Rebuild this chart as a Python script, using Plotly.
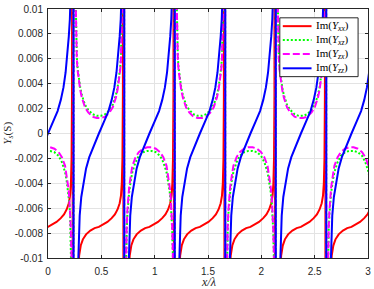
import plotly.graph_objects as go

# ---- data (periodic branches) ----
# branch centres (x/lambda) between consecutive poles
centers = [0.0, 0.477, 0.951, 1.424, 1.898, 2.371, 2.845]

# Im(Yxx): offsets from branch centre and values (tan-like, offset -0.0075)
xx_d = [-0.244, -0.21, -0.195, -0.185, -0.17, -0.15, -0.12, -0.08, -0.04, 0.0,
        0.04, 0.08, 0.12, 0.15, 0.175, 0.195, 0.207, 0.215, 0.221, 0.225, 0.230]
xx_y = [-0.05, -0.0135, -0.0108, -0.0098, -0.0090, -0.0085, -0.0081, -0.0078, -0.0076, -0.0075,
        -0.0073, -0.0071, -0.0068, -0.0065, -0.0061, -0.0056, -0.0050, -0.0040, -0.0020, 0.003, 0.05]

# Im(Yzz)
zz_d = [-0.236, -0.205, -0.197, -0.19, -0.18, -0.165, -0.145, -0.12, -0.09, -0.05, 0.0,
        0.05, 0.09, 0.12, 0.145, 0.165, 0.18, 0.195, 0.205, 0.213, 0.222, 0.238]
zz_y = [-0.05, -0.0135, -0.0105, -0.0085, -0.0066, -0.0051, -0.0039, -0.0028, -0.0019, -0.0010, 0.0,
        0.0010, 0.0018, 0.0027, 0.0037, 0.0049, 0.0061, 0.0078, 0.0092, 0.0105, 0.014, 0.05]

# cross terms: offsets and magnitudes (sign alternates branch to branch)
c_d = [-0.236, -0.225, -0.219, -0.213, -0.207, -0.2, -0.19, -0.175, -0.16, -0.13, -0.10, -0.06, -0.02,
       0.02, 0.06, 0.10, 0.13, 0.16, 0.175, 0.19, 0.2, 0.207, 0.213, 0.219, 0.225, 0.236]
zx_pos = [0.05, 0.014, 0.0098, 0.0077, 0.0060, 0.0051, 0.0043, 0.0035, 0.0029, 0.0021, 0.0017, 0.00135, 0.00124,
          0.00124, 0.00135, 0.0017, 0.0021, 0.0029, 0.0035, 0.0043, 0.0051, 0.0060, 0.0077, 0.0098, 0.014, 0.05]
zx_neg = [-0.05, -0.014, -0.0095, -0.0075, -0.0062, -0.0052, -0.0043, -0.0034, -0.0026, -0.0019, -0.0015, -0.00122, -0.0011,
          -0.0011, -0.00122, -0.0015, -0.0019, -0.0026, -0.0034, -0.0043, -0.0052, -0.0062, -0.0075, -0.0095, -0.014, -0.05]
xz_pos = [0.05, 0.014, 0.0098, 0.0078, 0.0062, 0.0053, 0.0045, 0.0037, 0.0031, 0.0023, 0.0019, 0.00155, 0.00142,
          0.00142, 0.00155, 0.0019, 0.0023, 0.0031, 0.0037, 0.0045, 0.0053, 0.0062, 0.0078, 0.0098, 0.014, 0.05]
xz_neg = [-0.05, -0.014, -0.0096, -0.0077, -0.0065, -0.0056, -0.0047, -0.0038, -0.0031, -0.0023, -0.0018, -0.0015, -0.0014,
          -0.0014, -0.0015, -0.0018, -0.0023, -0.0031, -0.0038, -0.0047, -0.0056, -0.0065, -0.0077, -0.0096, -0.014, -0.05]

x_ticks = [0, 0.5, 1, 1.5, 2, 2.5, 3]
x_ticktext = ["0", "0.5", "1", "1.5", "2", "2.5", "3"]
y_ticks = [-0.01, -0.008, -0.006, -0.004, -0.002, 0, 0.002, 0.004, 0.006, 0.008, 0.01]
y_ticktext = ["-0.01", "-0.008", "-0.006", "-0.004", "-0.002", "0", "0.002", "0.004", "0.006", "0.008", "0.01"]

series_names = ["Im(<i>Y</i><sub><i>xx</i></sub>)", "Im(<i>Y</i><sub><i>xz</i></sub>)",
                "Im(<i>Y</i><sub><i>zx</i></sub>)", "Im(<i>Y</i><sub><i>zz</i></sub>)"]
series_colors = ["#ff0000", "#00ff00", "#ff00ff", "#0000ff"]
series_dash = ["solid", "2px,2px", "7px,3px", "solid"]


def build(d, ys_per_branch):
    xs, ys = [], []
    for c, yv in zip(centers, ys_per_branch):
        xs += [c + v for v in d]
        ys += list(yv)
    return xs, ys


xx_x, xx_all = build(xx_d, [xx_y] * len(centers))
zz_x, zz_all = build(zz_d, [zz_y] * len(centers))
zx_x, zx_all = build(c_d, [zx_neg if i % 2 == 0 else zx_pos for i in range(len(centers))])
xz_x, xz_all = build(c_d, [xz_neg if i % 2 == 0 else xz_pos for i in range(len(centers))])

serif = "Liberation Serif, DejaVu Serif, serif"
fig = go.Figure()
for (xs, ys), name, col, dash in zip([(xx_x, xx_all), (xz_x, xz_all), (zx_x, zx_all), (zz_x, zz_all)],
                                     series_names, series_colors, series_dash):
    fig.add_trace(go.Scatter(x=xs, y=ys, mode="lines", line=dict(color=col, width=2, dash=dash),
                             name=name, showlegend=False, hoverinfo="skip"))

# plot-area geometry in pixels (for placing the legend box)
L, R, T, B = 48, 371, 4, 258


def px(x):
    return (x - L) / (R - L)


def py(y):
    return (B - y) / (B - T)


shapes = [dict(type="rect", xref="paper", yref="paper", x0=px(282), x1=px(361), y0=py(73), y1=py(13),
               fillcolor="white", line=dict(color="#262626", width=1), layer="above")]
annotations = []
rows = [21.5, 35.5, 50, 64.5]
for yy, name, col, dash in zip(rows, series_names, series_colors, series_dash):
    shapes.append(dict(type="line", xref="paper", yref="paper", x0=px(285), x1=px(314), y0=py(yy), y1=py(yy),
                       line=dict(color=col, width=2, dash=dash), layer="above"))
    annotations.append(dict(text=name, xref="paper", yref="paper", x=px(316), y=py(yy), xanchor="left",
                            yanchor="middle", showarrow=False, font=dict(family=serif, size=11, color="black")))

annotations += [
    dict(text="<i>x/λ</i>", xref="paper", yref="paper", x=0.5, y=0, yshift=-24,
         xanchor="center", yanchor="middle", showarrow=False,
         font=dict(family=serif, size=12, color="#262626")),
    dict(text="<i>Y</i><sub><i>s</i></sub>(S)", xref="paper", yref="paper", x=0, y=0.5, xshift=-41,
         xanchor="center", yanchor="middle", textangle=-90, showarrow=False,
         font=dict(family=serif, size=11, color="#262626")),
]

axis_common = dict(showline=True, linecolor="#262626", linewidth=1, mirror="ticks",
                   ticks="inside", ticklen=3, tickcolor="#262626", showgrid=True,
                   gridcolor="#e3e3e3", gridwidth=1, zeroline=False, ticklabeloverflow="allow",
                   tickfont=dict(family="Liberation Sans, Arial, sans-serif", size=10, color="#262626"))

fig.update_layout(
    width=374, height=289, autosize=False,
    margin=dict(l=L, r=374 - R, t=T, b=289 - B, pad=0),
    plot_bgcolor="white", paper_bgcolor="white",
    xaxis=dict(range=[0, 3], tickvals=x_ticks, ticktext=x_ticktext, ticklabelstandoff=4, **axis_common),
    yaxis=dict(range=[-0.01, 0.01], tickvals=y_ticks, ticktext=y_ticktext, ticklabelstandoff=2, **axis_common),
    showlegend=False,
    shapes=shapes,
    annotations=annotations,
)

fig.write_html("out.html", config={"displayModeBar": False, "staticPlot": True},
               post_script="document.body.style.margin='0';document.body.style.overflow='hidden';")
